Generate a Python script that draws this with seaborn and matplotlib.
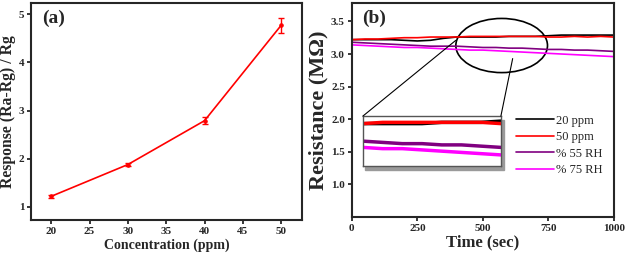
import numpy as np
import pandas as pd
import matplotlib
matplotlib.use("Agg")
import matplotlib.pyplot as plt
import seaborn as sns
from matplotlib.patches import Ellipse, Rectangle, ConnectionPatch

sns.set_style("ticks")
plt.rcParams['font.family'] = ['Liberation Serif', 'DejaVu Serif']
plt.rcParams['font.weight'] = 'bold'

# ---- panel (a) data ----
conc = [20, 30, 40, 50]
response = [1.22, 1.88, 2.79, 4.77]
resp_err = [0.03, 0.03, 0.07, 0.15]

# ---- panel (b) data ----
time_s = [0, 50, 100, 150, 200, 250, 300, 350, 400, 450, 500,
          550, 600, 650, 700, 750, 800, 850, 900, 950, 1000]
r_20ppm = [3.22, 3.22, 3.22, 3.22, 3.21, 3.20, 3.21, 3.24, 3.26, 3.26, 3.26,
           3.26, 3.27, 3.27, 3.27, 3.28, 3.29, 3.29, 3.29, 3.29, 3.29]
r_50ppm = [3.22, 3.23, 3.23, 3.24, 3.25, 3.25, 3.26, 3.26, 3.26, 3.27, 3.27,
           3.27, 3.27, 3.27, 3.27, 3.26, 3.26, 3.27, 3.26, 3.27, 3.26]
r_55rh = [3.18, 3.17, 3.16, 3.15, 3.14, 3.13, 3.12, 3.12, 3.12, 3.11, 3.10,
          3.10, 3.09, 3.09, 3.08, 3.07, 3.07, 3.06, 3.06, 3.05, 3.04]
r_75rh = [3.14, 3.13, 3.12, 3.11, 3.10, 3.10, 3.09, 3.08, 3.07, 3.06, 3.06,
          3.05, 3.04, 3.03, 3.02, 3.01, 3.00, 2.99, 2.98, 2.97, 2.96]
series_names = ["20 ppm", "50 ppm", "% 55 RH", "% 75 RH"]
series_colors = ["black", "red", "#800080", "#ff00ff"]

df_b = pd.DataFrame({"time": time_s * 4,
                     "res": r_20ppm + r_50ppm + r_55rh + r_75rh,
                     "gas": sum([[n] * len(time_s) for n in series_names], [])})

fig = plt.figure(figsize=(6.25, 2.6), dpi=100)
ax1 = fig.add_axes([0.05, 0.154, 0.433, 0.834])
ax2 = fig.add_axes([0.563, 0.165, 0.419, 0.823])

# ---- (a) ----
sns.lineplot(x=conc, y=response, color="red", lw=1.2, marker="o", ms=2.5,
             mec="red", ax=ax1)
ax1.errorbar(conc, response, yerr=resp_err, fmt="none", ecolor="red",
             elinewidth=1, capsize=2.5)
ax1.set_xlim(17.4, 52.7)
ax1.set_ylim(0.73, 5.23)
ax1.set_xticks([20, 25, 30, 35, 40, 45, 50])
ax1.set_yticks([1, 2, 3, 4, 5])
ax1.set_xlabel("Concentration (ppm)", fontsize=10, fontweight="bold", labelpad=2)
ax1.set_ylabel("Response (Ra-Rg) / Rg", fontsize=11.3, fontweight="bold", labelpad=2)
ax1.text(0.04, 0.97, "(a)", transform=ax1.transAxes, fontsize=14,
         fontweight="bold", va="top")

# ---- (b) ----
sns.lineplot(data=df_b, x="time", y="res", hue="gas", palette=series_colors,
             lw=1.2, ax=ax2)
ax2.set_xlim(0, 1000)
ax2.set_ylim(0.5, 3.78)
ax2.set_xticks([0, 250, 500, 750, 1000])
ax2.set_yticks([1.0, 1.5, 2.0, 2.5, 3.0, 3.5])
ax2.set_yticklabels(["1.0", "1.5", "2.0", "2.5", "3.0", "3.5"])
ax2.set_xlabel("Time (sec)", fontsize=12, fontweight="bold", labelpad=1)
ax2.set_ylabel("Resistance (M\u03a9)", fontsize=16, fontweight="bold", labelpad=2)
ax2.text(0.04, 0.97, "(b)", transform=ax2.transAxes, fontsize=14,
         fontweight="bold", va="top")
leg = ax2.legend(loc="center right", bbox_to_anchor=(1.0, 0.335), frameon=False,
                 fontsize=9, handlelength=3.0, handletextpad=0.2, labelspacing=0.35)
for t in leg.get_texts():
    t.set_fontweight("normal")

ell = Ellipse((572, 3.13), 350, 0.83, fill=False, ec="black", lw=1.2)
ax2.add_patch(ell)

# inset with shadow
ins_pos = [0.042, 0.238, 0.527, 0.234]
shadow = Rectangle((ins_pos[0] + 0.01, ins_pos[1] - 0.02), ins_pos[2], ins_pos[3],
                   transform=ax2.transAxes, color="#9a9a9a", zorder=4)
ax2.add_patch(shadow)
axi = ax2.inset_axes(ins_pos, zorder=5)
sns.lineplot(data=df_b, x="time", y="res", hue="gas", palette=series_colors,
             lw=2.5, legend=False, ax=axi)
axi.set_xlim(400, 750)
axi.set_ylim(2.92, 3.32)
axi.set_xticks([])
axi.set_yticks([])
axi.set_xlabel("")
axi.set_ylabel("")
for s in axi.spines.values():
    s.set_color("#555555")
    s.set_linewidth(1)

for xyA, xyB in [((0, 1), (397, 3.21)), ((1, 1), (614, 2.93))]:
    con = ConnectionPatch(xyA=xyA, coordsA=axi.transAxes, xyB=xyB,
                          coordsB=ax2.transData, color="black", lw=0.8, zorder=6)
    fig.add_artist(con)

for ax in (ax1, ax2):
    for s in ax.spines.values():
        s.set_linewidth(1.5)
    ax.tick_params(width=1.3, length=3, labelsize=8, pad=2)
    for lab in ax.get_xticklabels() + ax.get_yticklabels():
        lab.set_fontweight("bold")

fig.savefig("out.png", dpi=100)
